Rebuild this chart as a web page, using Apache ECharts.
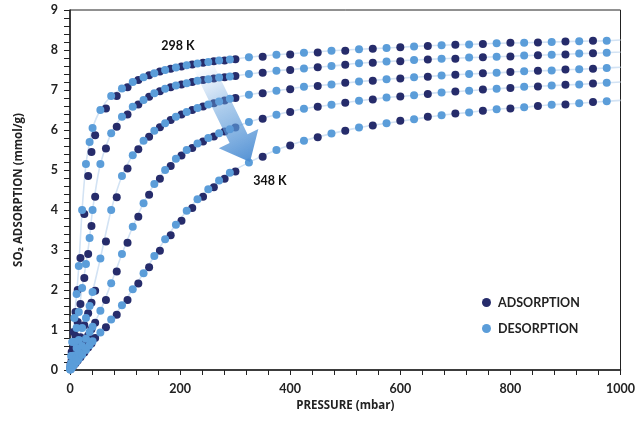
<!DOCTYPE html>
<html><head><meta charset="utf-8">
<script src="https://cdn.jsdelivr.net/npm/echarts@6/dist/echarts.min.js"></script>
<style>html,body{margin:0;padding:0;background:#fff}#c{width:638px;height:426px}</style>
</head><body><div id="c"></div>
<script>
// Pressures (mbar) of adsorption and desorption points
const adsPressure = [1, 3, 6.5, 10, 14, 19, 26, 33, 39, 45.7,
  65.3, 84.9, 104.5, 124.1, 143.7, 163.3, 182.9, 202.5, 222.1, 241.7, 261.3, 280.9, 300.5,
  350, 400, 450, 500, 550, 600, 650, 700, 750, 800, 850, 900, 950];
const desPressure = [0.5, 2, 4, 8, 12, 16, 22, 29, 35.6, 41,
  55.2, 74.8, 94.4, 114, 133.6, 153.2, 172.8, 192.4, 212, 231.6, 251.2, 270.8, 290.4,
  325, 375, 425, 475, 525, 575, 625, 675, 725, 775, 825, 875, 925, 975];

// SO2 uptake (mmol/g), from 298 K (top) to 348 K (bottom)
const ads298 = [0.15, 0.45, 0.95, 1.45, 2.0, 2.8, 3.9, 4.85, 5.45, 5.87,
  6.54, 6.85, 7.07, 7.25, 7.37, 7.46, 7.53, 7.59, 7.64, 7.68, 7.72, 7.74, 7.77,
  7.83, 7.89, 7.94, 7.98, 8.03, 8.07, 8.10, 8.13, 8.15, 8.18, 8.19, 8.21, 8.23];
const des298 = [0.1, 0.35, 0.7, 1.3, 1.9, 2.6, 4.0, 5.15, 5.7, 6.05,
  6.5, 6.85, 7.04, 7.2, 7.32, 7.42, 7.5, 7.56, 7.62, 7.66, 7.7, 7.74, 7.76,
  7.82, 7.88, 7.93, 7.98, 8.02, 8.05, 8.09, 8.12, 8.14, 8.17, 8.18, 8.2, 8.22, 8.23];
const adsT2 = [0.08, 0.25, 0.55, 0.85, 1.2, 1.65, 2.3, 2.9, 3.6, 4.33,
  5.54, 6.08, 6.39, 6.64, 6.83, 6.97, 7.07, 7.14, 7.2, 7.25, 7.29, 7.32, 7.35,
  7.43, 7.5, 7.57, 7.63, 7.68, 7.72, 7.76, 7.78, 7.82, 7.84, 7.87, 7.89, 7.92];
const desT2 = [0.04, 0.17, 0.35, 0.7, 1.05, 1.45, 2.05, 2.65, 3.3, 4.0,
  5.15, 5.92, 6.33, 6.58, 6.75, 6.92, 7.03, 7.11, 7.17, 7.23, 7.27, 7.31, 7.34,
  7.4, 7.48, 7.54, 7.6, 7.67, 7.71, 7.75, 7.78, 7.81, 7.83, 7.86, 7.88, 7.91, 7.93];
const adsT3 = [0.05, 0.13, 0.28, 0.43, 0.6, 0.82, 1.12, 1.42, 1.68, 1.98,
  3.21, 4.32, 5.04, 5.52, 5.83, 6.07, 6.25, 6.39, 6.5, 6.59, 6.67, 6.74, 6.8,
  6.92, 7.02, 7.1, 7.18, 7.23, 7.29, 7.33, 7.38, 7.42, 7.45, 7.48, 7.51, 7.53];
const desT3 = [0.02, 0.08, 0.17, 0.36, 0.55, 0.75, 1.05, 1.3, 1.6, 1.95,
  2.79, 4.0, 4.85, 5.37, 5.73, 5.98, 6.17, 6.33, 6.45, 6.55, 6.64, 6.71, 6.78,
  6.88, 6.98, 7.08, 7.14, 7.21, 7.27, 7.32, 7.36, 7.4, 7.43, 7.47, 7.49, 7.52, 7.55];
const adsT4 = [0.03, 0.08, 0.17, 0.27, 0.37, 0.5, 0.68, 0.86, 1.02, 1.18,
  1.75, 2.46, 3.18, 3.83, 4.38, 4.78, 5.1, 5.36, 5.55, 5.71, 5.84, 5.96, 6.06,
  6.28, 6.45, 6.58, 6.68, 6.76, 6.84, 6.9, 6.96, 7.01, 7.05, 7.09, 7.13, 7.16];
const desT4 = [0.01, 0.05, 0.1, 0.21, 0.32, 0.43, 0.6, 0.78, 0.95, 1.08,
  1.48, 2.17, 2.9, 3.58, 4.17, 4.65, 5.0, 5.28, 5.5, 5.66, 5.8, 5.92, 6.02,
  6.2, 6.38, 6.53, 6.63, 6.73, 6.81, 6.87, 6.94, 6.98, 7.03, 7.08, 7.11, 7.14, 7.18];
const ads348 = [0.02, 0.05, 0.11, 0.17, 0.24, 0.32, 0.44, 0.56, 0.66, 0.8,
  1.07, 1.38, 1.75, 2.16, 2.57, 2.98, 3.37, 3.73, 4.05, 4.33, 4.57, 4.78, 4.96,
  5.33, 5.61, 5.82, 5.98, 6.11, 6.23, 6.33, 6.41, 6.48, 6.54, 6.6, 6.64, 6.7];
const des348 = [0.01, 0.03, 0.07, 0.14, 0.21, 0.28, 0.38, 0.5, 0.62, 0.72,
  0.94, 1.26, 1.62, 2.02, 2.42, 2.85, 3.27, 3.63, 3.98, 4.27, 4.52, 4.74, 4.93,
  5.19, 5.5, 5.73, 5.91, 6.06, 6.17, 6.27, 6.37, 6.44, 6.52, 6.57, 6.63, 6.67, 6.72];

// guide-line end values at 1000 mbar
const lineEndPressure = 1000;
const lineEndValues = [8.25, 7.95, 7.57, 7.2, 6.74];

const legendNames = ['ADSORPTION', 'DESORPTION'];
const tempLabels = ['298 K', '348 K'];
const tempLabelPos = [[196, 8.1], [363, 4.73]];
const arrowTail = [241, 7.62];
const arrowTip = [327, 5.2];

const adsCurves = [ads298, adsT2, adsT3, adsT4, ads348];
const desCurves = [des298, desT2, desT3, desT4, des348];

const FONT = 'Lato';
const NAME_FONT = 'Open Sans';
const ADS_COLOR = '#262c6b';
const DES_COLOR = '#5b9dd9';
const AX = '#222';

const adsData = [];
adsCurves.forEach(c => c.forEach((v, i) => adsData.push([adsPressure[i], v])));
const desData = [];
desCurves.forEach(c => c.forEach((v, i) => desData.push([desPressure[i], v])));

const lineSeries = desCurves.map((c, k) => ({
  type: 'line', silent: true, showSymbol: false, smooth: 0.3, z: 1,
  data: c.map((v, i) => [desPressure[i], v]).concat([[lineEndPressure, lineEndValues[k]]]),
  lineStyle: { color: '#d3e3f4', width: 1.6 }
}));

const chart = echarts.init(document.getElementById('c'));
chart.setOption({
  animation: false,
  grid: { left: 70, right: 17, top: 10, bottom: 56, show: true, borderColor: AX, borderWidth: 1 },
  legend: {
    data: legendNames, orient: 'vertical', left: 477, top: 291, itemWidth: 9, itemHeight: 9,
    itemGap: 13, icon: 'circle',
    textStyle: { fontFamily: FONT, fontWeight: 'bold', fontSize: 12.5, color: AX, padding: [0, 0, 0, 2] }
  },
  xAxis: {
    type: 'value', min: 0, max: 1000, interval: 200,
    name: 'PRESSURE (mbar)', nameLocation: 'middle', nameGap: 29,
    nameTextStyle: { fontFamily: NAME_FONT, fontWeight: 'bold', fontSize: 11.5, color: AX },
    axisLine: { lineStyle: { color: AX, width: 1.5 } },
    axisTick: { show: true, length: 5, lineStyle: { color: AX, width: 1 } },
    minorTick: { show: true, splitNumber: 5, length: 5, lineStyle: { color: AX, width: 1 } },
    splitLine: { show: false },
    axisLabel: { fontFamily: FONT, fontWeight: 'bold', fontSize: 12.5, color: AX, margin: 12,
      formatter: v => String(v) }
  },
  yAxis: {
    type: 'value', min: 0, max: 9, interval: 1,
    name: 'SO₂ ADSORPTION (mmol/g)', nameLocation: 'middle', nameGap: 45, nameRotate: 90,
    nameTextStyle: { fontFamily: NAME_FONT, fontWeight: 'bold', fontSize: 11.5, color: AX },
    axisLine: { lineStyle: { color: AX, width: 1.5 } },
    axisTick: { show: true, length: 6, lineStyle: { color: AX, width: 1 } },
    minorTick: { show: true, splitNumber: 5, length: 6, lineStyle: { color: AX, width: 1 } },
    splitLine: { show: false },
    axisLabel: { fontFamily: FONT, fontWeight: 'bold', fontSize: 12.5, color: AX, margin: 12 }
  },
  series: lineSeries.concat([
    { name: legendNames[0], type: 'scatter', symbolSize: 8, z: 3, data: adsData,
      itemStyle: { color: ADS_COLOR, opacity: 1 } },
    { name: legendNames[1], type: 'scatter', symbolSize: 8, z: 4, data: desData,
      itemStyle: { color: DES_COLOR, opacity: 1 } }
  ])
});

// Arrow and temperature labels, placed from data coordinates
const tail = chart.convertToPixel({ gridIndex: 0 }, arrowTail);
const tip = chart.convertToPixel({ gridIndex: 0 }, arrowTip);
const dx = tip[0] - tail[0], dy = tip[1] - tail[1];
const len = Math.hypot(dx, dy);
const ux = dx / len, uy = dy / len, nx = -uy, ny = ux;
const bodyW = 10, headW = 22, headL = 26;
const bx = tip[0] - ux * headL, by = tip[1] - uy * headL;
const pts = [
  [tail[0] + nx * bodyW, tail[1] + ny * bodyW],
  [bx + nx * bodyW, by + ny * bodyW],
  [bx + nx * headW, by + ny * headW],
  [tip[0], tip[1]],
  [bx - nx * headW, by - ny * headW],
  [bx - nx * bodyW, by - ny * bodyW],
  [tail[0] - nx * bodyW, tail[1] - ny * bodyW]
];
const lbl = tempLabelPos.map(p => chart.convertToPixel({ gridIndex: 0 }, p));
chart.setOption({
  graphic: [
    { type: 'polygon', z: 100, shape: { points: pts },
      style: { fill: new echarts.graphic.LinearGradient(tail[0], tail[1], tip[0], tip[1], [
        { offset: 0, color: 'rgba(120,170,225,0)' },
        { offset: 0.45, color: 'rgba(100,160,220,0.55)' },
        { offset: 1, color: 'rgba(75,140,210,0.95)' }], true) } },
    { type: 'text', z: 101, x: lbl[0][0], y: lbl[0][1],
      style: { text: tempLabels[0], fontFamily: FONT, fontWeight: 'bold', fontSize: 12.5, fill: '#111', align: 'center', verticalAlign: 'middle' } },
    { type: 'text', z: 101, x: lbl[1][0], y: lbl[1][1],
      style: { text: tempLabels[1], fontFamily: FONT, fontWeight: 'bold', fontSize: 12.5, fill: '#111', align: 'center', verticalAlign: 'middle' } }
  ]
});
</script></body></html>
